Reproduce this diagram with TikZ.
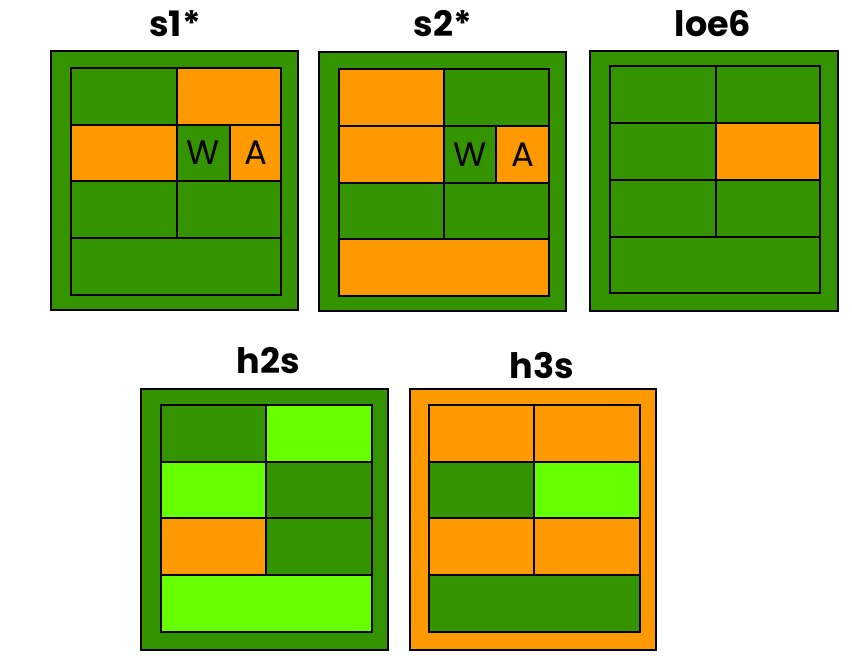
\documentclass[tikz,border=0pt]{standalone}
\usepackage{fontspec}
\newfontfamily\pop{Poppins}
\definecolor{dg}{HTML}{339400}
\definecolor{og}{HTML}{FF9900}
\definecolor{lg}{HTML}{66FF00}
\tikzset{
  outerbox/.style={draw=black, line width=1.6pt, inner sep=0pt, outer sep=0pt, anchor=north west},
  cellbox/.style={draw=black, line width=2.4pt, inner sep=0pt, outer sep=0pt, anchor=north west},
  title/.style={font=\pop\bfseries\fontsize{35}{35}\selectfont, anchor=base, inner sep=0pt},
  letter/.style={font=\pop\fontsize{34}{34}\selectfont}
}
% \mkcell{name}{x1}{y1}{x2}{y2}{color}{text}
\newcommand\mkcell[7]{\node[cellbox, fill=#6, minimum width={#4-#2}, minimum height={#5-#3}, letter] (#1) at (#2,#3) {#7};}
\newcommand\mkouter[6]{\node[outerbox, fill=#6, minimum width={#4-#2}, minimum height={#5-#3}] (#1) at (#2,#3) {};}
\begin{document}
\begin{tikzpicture}[x=1pt,y=-1pt]
\useasboundingbox (0,0) rectangle (852,666);
\fill[white] (0,0) rectangle (852,666);
% ---- s1* ----
\node[title] (t1) at (175,37) {s1*};
\mkouter{o1}{51}{51}{298}{310}{dg}
\mkcell{a11}{71}{68}{177}{125}{dg}{}
\mkcell{a12}{177}{68}{281}{125}{og}{}
\mkcell{a21}{71}{125}{177}{181}{og}{}
\mkcell{a22}{177}{125}{230}{181}{dg}{W}
\mkcell{a23}{230}{125}{281}{181}{og}{A}
\mkcell{a31}{71}{181}{177}{238}{dg}{}
\mkcell{a32}{177}{181}{281}{238}{dg}{}
\mkcell{a41}{71}{238}{281}{295}{dg}{}
% ---- s2* ----
\node[title] (t2) at (443,37) {s2*};
\mkouter{o2}{319}{52}{566}{311}{dg}
\mkcell{b11}{339}{69}{444}{126}{og}{}
\mkcell{b12}{444}{69}{549}{126}{dg}{}
\mkcell{b21}{339}{126}{444}{183}{og}{}
\mkcell{b22}{444}{126}{496}{183}{dg}{W}
\mkcell{b23}{496}{126}{549}{183}{og}{A}
\mkcell{b31}{339}{183}{444}{239}{dg}{}
\mkcell{b32}{444}{183}{549}{239}{dg}{}
\mkcell{b41}{339}{239}{549}{296}{og}{}
% ---- loe6 ----
\node[title] (t3) at (713,37) {loe6};
\mkouter{o3}{590}{51}{838}{311}{dg}
\mkcell{c11}{610}{66}{716}{123}{dg}{}
\mkcell{c12}{716}{66}{820}{123}{dg}{}
\mkcell{c21}{610}{123}{716}{180}{dg}{}
\mkcell{c22}{716}{123}{820}{180}{og}{}
\mkcell{c31}{610}{180}{716}{237}{dg}{}
\mkcell{c32}{716}{180}{820}{237}{dg}{}
\mkcell{c41}{610}{237}{820}{293}{dg}{}
% ---- h2s ----
\node[title] (t4) at (268,373) {h2s};
\mkouter{o4}{141}{389}{388}{650}{dg}
\mkcell{d11}{161}{405}{266}{462}{dg}{}
\mkcell{d12}{266}{405}{372}{462}{lg}{}
\mkcell{d21}{161}{462}{266}{518}{lg}{}
\mkcell{d22}{266}{462}{372}{518}{dg}{}
\mkcell{d31}{161}{518}{266}{575}{og}{}
\mkcell{d32}{266}{518}{372}{575}{dg}{}
\mkcell{d41}{161}{575}{372}{632}{lg}{}
% ---- h3s ----
\node[title] (t5) at (542,378) {h3s};
\mkouter{o5}{410}{389}{656}{650}{og}
\mkcell{e11}{429}{405}{534}{462}{og}{}
\mkcell{e12}{534}{405}{640}{462}{og}{}
\mkcell{e21}{429}{462}{534}{518}{dg}{}
\mkcell{e22}{534}{462}{640}{518}{lg}{}
\mkcell{e31}{429}{518}{534}{575}{og}{}
\mkcell{e32}{534}{518}{640}{575}{og}{}
\mkcell{e41}{429}{575}{640}{632}{dg}{}
\end{tikzpicture}
\end{document}
